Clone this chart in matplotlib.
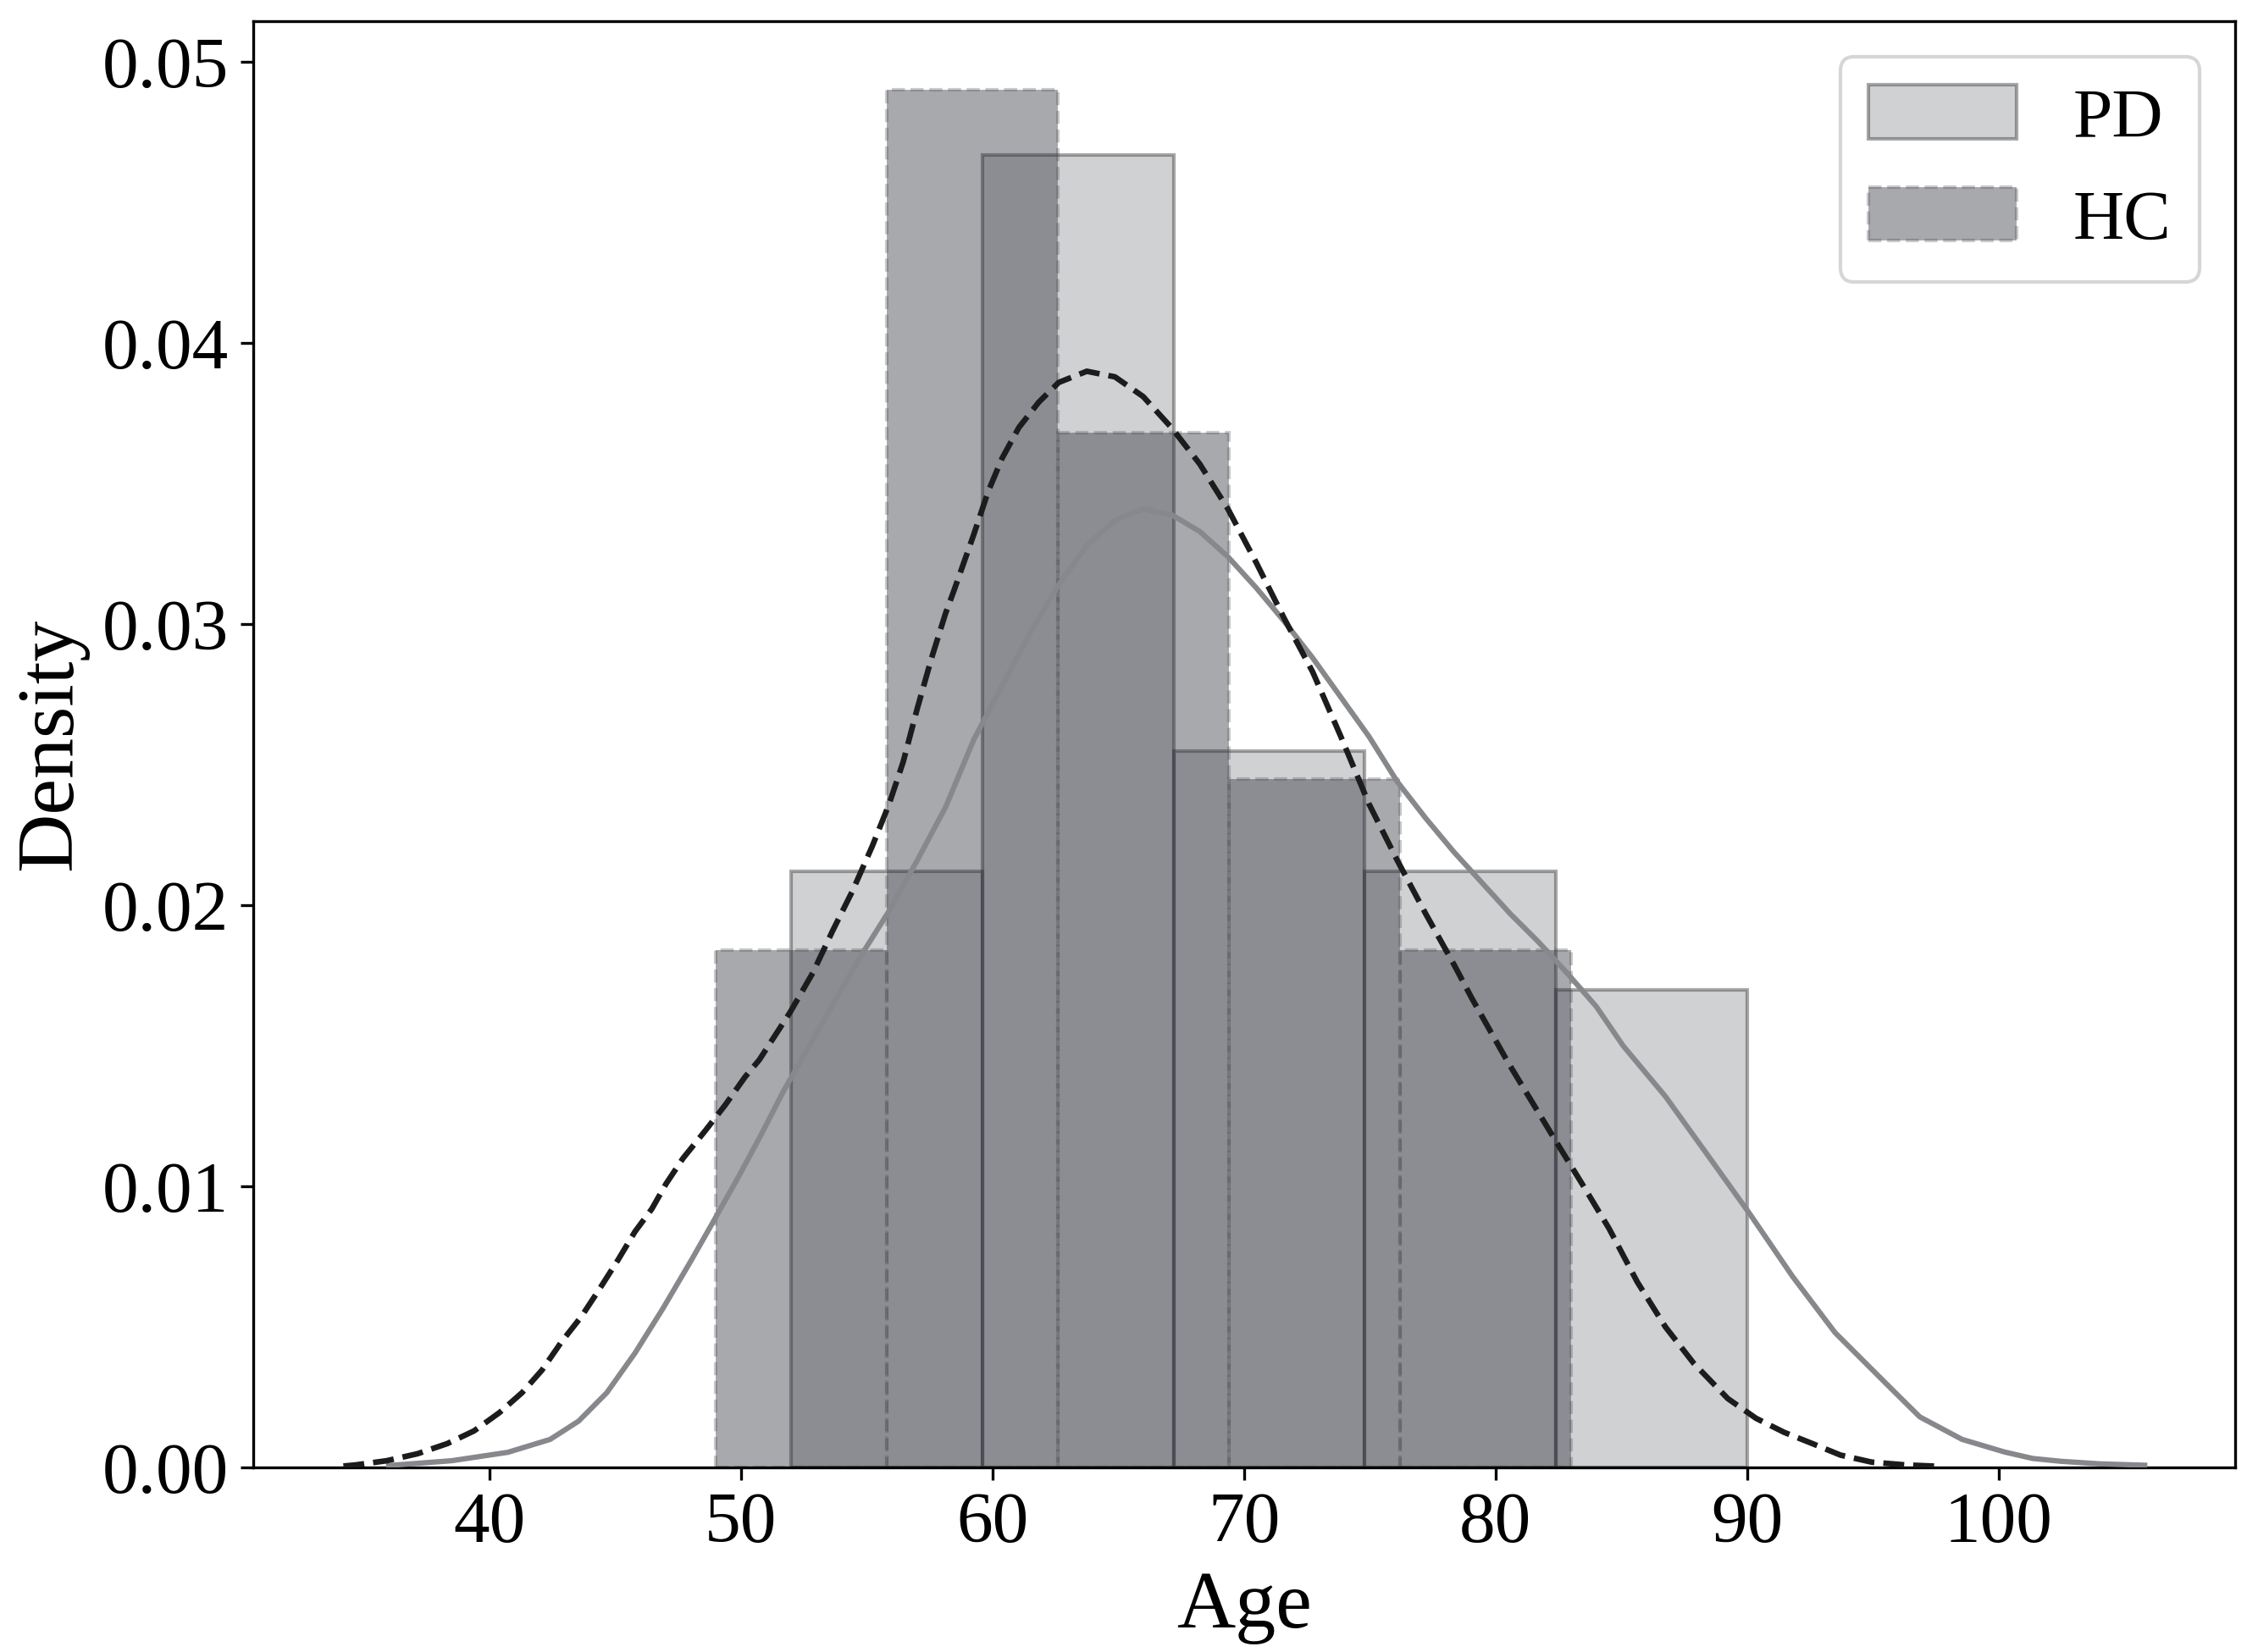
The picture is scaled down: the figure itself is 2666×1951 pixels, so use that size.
import matplotlib
matplotlib.use("Agg")
import matplotlib.pyplot as plt
import numpy as np

plt.rcParams['font.family'] = ['Liberation Serif', 'DejaVu Serif']

# histogram bins (density scale)
pd_edges = [52.0, 59.6, 67.2, 74.8, 82.4, 90.0]
pd_heights = [0.0212, 0.0467, 0.0255, 0.0212, 0.0170]
hc_edges = [49.0, 55.8, 62.6, 69.4, 76.2, 83.0]
hc_heights = [0.0184, 0.0490, 0.0368, 0.0245, 0.0184]

# kde curves, points
pd_kde_age = [36.0, 38.5, 40.74, 42.42, 43.55, 44.67, 45.79, 46.91, 48.04, 48.93, 49.94, 50.84,
              51.7, 53.42, 54.77, 55.89, 57.01, 58.14, 59.26, 60.38, 61.5, 62.63, 63.75, 64.87,
              65.99, 67.11, 68.24, 69.36, 70.48, 71.6, 72.73, 73.85, 74.97, 76.09, 77.22, 78.34,
              79.46, 80.58, 81.7, 82.83, 84.0, 85.07, 86.75, 88.44, 90.12, 91.8, 93.49, 94.61,
              95.73, 96.86, 98.54, 100.23, 101.35, 102.47, 104.0, 105.8]
pd_kde_dens = [0.00007, 0.00024, 0.00054, 0.0010, 0.00165, 0.00266, 0.00407, 0.00567, 0.00739,
               0.00879, 0.0104, 0.0119, 0.0134, 0.0161, 0.0182, 0.0198, 0.0216, 0.0235, 0.0259,
               0.0278, 0.0297, 0.0314, 0.0328, 0.0337, 0.0341, 0.0339, 0.0333, 0.0324, 0.0313,
               0.0301, 0.0288, 0.0274, 0.0260, 0.0244, 0.0231, 0.0219, 0.0208, 0.0197, 0.0187,
               0.0176, 0.0164, 0.0150, 0.0132, 0.0111, 0.0090, 0.0068, 0.0048, 0.0038, 0.0028,
               0.0018, 0.0010, 0.00055, 0.00032, 0.00022, 0.00013, 0.00008]

hc_kde_age = [34.2, 34.68, 35.92, 37.15, 38.33, 39.39, 40.4, 41.3, 42.09, 42.87, 43.66, 44.33,
              45.12, 45.79, 46.46, 47.03, 47.7, 48.6, 49.38, 50.17, 50.73, 51.96, 52.86, 53.65,
              54.43, 55.22, 55.89, 56.45, 57.01, 57.58, 58.14, 58.47, 59.26, 59.82, 60.38, 61.05,
              61.84, 62.63, 63.75, 64.87, 65.99, 67.11, 68.24, 69.36, 70.48, 71.6, 72.73, 73.85,
              74.97, 76.09, 77.22, 78.34, 79.05, 80.5, 82.4, 83.5, 84.51, 85.63, 86.75, 87.88,
              89.23, 90.35, 91.47, 92.59, 93.71, 94.95, 96.3, 97.64]
hc_kde_dens = [0.00005, 0.00009, 0.00024, 0.00049, 0.00085, 0.0013, 0.00195, 0.00266, 0.00346,
               0.00447, 0.00537, 0.00628, 0.00739, 0.00839, 0.0092, 0.0101, 0.0110, 0.0120,
               0.0129, 0.0139, 0.0145, 0.0162, 0.0176, 0.0191, 0.0205, 0.0221, 0.0236, 0.0251,
               0.0270, 0.0288, 0.0304, 0.0312, 0.0332, 0.0347, 0.0359, 0.0370, 0.0379, 0.0386,
               0.0390, 0.0388, 0.0381, 0.0370, 0.0357, 0.0341, 0.0322, 0.0302, 0.0283, 0.0260,
               0.0236, 0.0216, 0.0197, 0.0179, 0.0167, 0.0144, 0.0116, 0.0100, 0.0085, 0.0066,
               0.0050, 0.0037, 0.00245, 0.00175, 0.00125, 0.00085, 0.00044, 0.00019, 0.00009,
               0.00004]

labels = ['PD', 'HC']

fig = plt.figure(figsize=(2666 / 300, 1951 / 300), dpi=300)
ax = fig.add_axes([0.1122, 0.1117, 0.8775, 0.8754])

pd_face = (0.54, 0.55, 0.575, 0.4)
pd_edge = (0.15, 0.15, 0.16, 0.4)
hc_face = (0.147, 0.157, 0.196, 0.4)
hc_edge = (0.3, 0.3, 0.32, 0.3)

pd_left = np.array(pd_edges[:-1])
pd_w = np.diff(pd_edges)
hc_left = np.array(hc_edges[:-1])
hc_w = np.diff(hc_edges)

ax.bar(pd_left, pd_heights, width=pd_w, align='edge', color=pd_face, edgecolor=pd_edge,
       linewidth=1.0, label=labels[0])
ax.bar(hc_left, hc_heights, width=hc_w, align='edge', color=hc_face, edgecolor=hc_edge,
       linewidth=1.0, linestyle='--', label=labels[1])

ax.plot(pd_kde_age, pd_kde_dens, color='#87888b', linewidth=1.5, zorder=3)
ax.plot(hc_kde_age, hc_kde_dens, color='#1c1c1c', linewidth=1.6, linestyle='--', zorder=4)

ax.set_xticks([40, 50, 60, 70, 80, 90, 100])
ax.set_yticks([0.0, 0.01, 0.02, 0.03, 0.04, 0.05])
ax.set_yticklabels(['0.00', '0.01', '0.02', '0.03', '0.04', '0.05'])
ax.tick_params(labelsize=20.5)
ax.set_xlabel('Age', fontsize=23)
ax.set_ylabel('Density', fontsize=23)

ax.legend(fontsize=20, loc='upper right', handlelength=2.1, handleheight=0.8)

fig.savefig('out.png', dpi=300)
